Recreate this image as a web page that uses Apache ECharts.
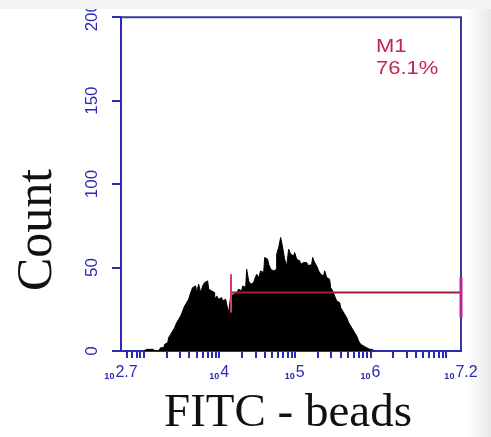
<!DOCTYPE html>
<html>
<head>
<meta charset="utf-8">
<script src="https://cdn.jsdelivr.net/npm/echarts@6/dist/echarts.min.js"></script>
<style>
  html, body { margin: 0; padding: 0; background: #ffffff; }
  #chart { width: 491px; height: 437px; }
</style>
</head>
<body>
<div id="chart"></div>
<script>
// FITC fluorescence histogram of beads, log10 intensity on x
const xRange = [2.7, 7.2];                 // decades shown
const xLabelDecades = [2.7, 4, 5, 6, 7.2]; // labelled positions (10^n)
const yTicks = [0, 50, 100, 150, 200];

// histogram channels: first channel centre (log10) and channel width (decades)
const channelStart = 3.0;
const channelWidth = 0.02647;
const counts = [
  0, 1, 1, 1, 1, 0, 0, 0, 1, 2,
  2, 4, 5, 8, 10, 12, 14, 17, 19, 21,
  24, 27, 29, 31, 35, 38, 39, 35, 40, 35,
  39, 41, 42, 37, 36, 35, 31, 33, 31, 32,
  30, 31, 28, 23, 33, 34, 35, 34, 37, 36,
  39, 38, 49, 42, 40, 41, 43, 46, 44, 48,
  47, 56, 55, 52, 49, 48, 49, 58, 62, 68,
  62, 55, 51, 61, 58, 57, 59, 55, 54, 52,
  53, 53, 52, 51, 52, 56, 53, 51, 48, 46,
  45, 48, 44, 43, 38, 36, 33, 30, 29, 26,
  24, 22, 20, 17, 15, 13, 11, 9, 6, 4,
  3, 2, 2, 1, 1, 0
];

// marker M1
const markerName = 'M1';
const markerPercent = '76.1%';
const markerFrom = 4.156;
const markerTo = 7.2;
const markerLevel = 35;
const markerStartTick = [23, 46];
const markerEndTick = [20, 44];

const histData = counts.map((c, i) => [channelStart + i * channelWidth, c]);

// minor/major tick positions of a log axis: k * 10^n inside the range
const logTicks = [];
for (let n = 2; n <= 7; n++) {
  for (let k = 1; k <= 9; k++) {
    const v = n + Math.log10(k);
    if (v > xRange[0] + 1e-6 && v <= xRange[1] + 1e-6) logTicks.push(v);
  }
}

const blue = '#2a2ab4';
const frame = '#3a3a9c';
const serif = 'Liberation Serif';

const chart = echarts.init(document.getElementById('chart'), null, { renderer: 'canvas' });
chart.setOption({
  backgroundColor: '#ffffff',
  animation: false,
  grid: {
    left: 121, right: 30, top: 11, bottom: 86,
    show: true, borderColor: frame, borderWidth: 2, backgroundColor: 'transparent'
  },
  xAxis: {
    type: 'value',
    min: xRange[0], max: xRange[1],
    axisLine: { show: true, lineStyle: { color: blue, width: 2 } },
    splitLine: { show: false },
    axisTick: {
      show: true, inside: false, length: 7,
      customValues: logTicks,
      lineStyle: { color: blue, width: 2 }
    },
    axisLabel: {
      customValues: xLabelDecades,
      margin: 14,
      formatter: v => '{b|10}{e|' + (Number.isInteger(v) ? v : v.toFixed(1)) + '}',
      rich: {
        b: { fontFamily: 'Liberation Sans', fontSize: 9, fontWeight: 'bold', color: blue, verticalAlign: 'bottom', padding: [0, 1, 0, 0] },
        e: { fontFamily: 'Liberation Sans', fontSize: 16, color: blue, verticalAlign: 'top' }
      }
    }
  },
  yAxis: {
    type: 'value',
    min: 0, max: 200, interval: 50,
    axisLine: { show: true, lineStyle: { color: blue, width: 2 } },
    splitLine: { show: false },
    axisTick: { show: true, inside: false, length: 9, lineStyle: { color: blue, width: 2 } },
    axisLabel: {
      rotate: 90,
      margin: 20,
      color: blue,
      fontFamily: 'Liberation Sans Narrow, Liberation Sans',
      fontSize: 17,
      formatter: v => yTicks.includes(v) ? String(v) : ''
    }
  },
  series: [
    {
      name: 'FITC',
      type: 'line',
      step: 'middle',
      symbol: 'none',
      data: histData,
      lineStyle: { color: '#000000', width: 1 },
      areaStyle: { color: '#000000', opacity: 1 },
      z: 2
    },
    {
      name: markerName,
      type: 'line',
      symbol: 'none',
      clip: false,
      data: [[markerFrom, markerLevel], [markerTo, markerLevel]],
      lineStyle: { color: '#a41e38', width: 2 },
      z: 3
    },
    {
      type: 'line',
      symbol: 'none',
      clip: false,
      data: [[markerFrom, markerStartTick[0]], [markerFrom, markerStartTick[1]]],
      lineStyle: { color: '#d0405e', width: 2 },
      z: 3
    },
    {
      type: 'line',
      symbol: 'none',
      clip: false,
      data: [[markerTo, markerEndTick[0]], [markerTo, markerEndTick[1]]],
      lineStyle: { color: '#b82890', width: 3 },
      z: 4
    }
  ],
  graphic: [
    {
      type: 'rect', right: 0, top: 0, z: -1, silent: true,
      shape: { width: 26, height: 437 },
      style: {
        fill: new echarts.graphic.LinearGradient(0, 0, 1, 0, [
          { offset: 0, color: 'rgba(236,236,236,0)' },
          { offset: 1, color: 'rgba(232,232,232,1)' }
        ])
      }
    },
    {
      type: 'text', left: 376, top: 38, scaleX: 1.22, z: 10,
      style: { text: markerName, fontFamily: 'Liberation Sans', fontSize: 18, fill: '#c0284e' }
    },
    {
      type: 'text', left: 376, top: 60, scaleX: 1.22, z: 10,
      style: { text: markerPercent, fontFamily: 'Liberation Sans', fontSize: 18, fill: '#c0284e' }
    },
    {
      type: 'text', x: 38, y: 230, rotation: Math.PI / 2, z: 10,
      style: {
        text: 'Count', fontFamily: serif, fontSize: 50, fill: '#111111',
        align: 'center', verticalAlign: 'middle'
      }
    },
    {
      type: 'text', x: 288, y: 414, z: 10,
      style: {
        text: 'FITC - beads', fontFamily: serif, fontSize: 47, fill: '#111111',
        align: 'center', verticalAlign: 'middle'
      }
    },
    {
      type: 'rect', left: 0, top: 0, z: 20,
      shape: { width: 491, height: 9 },
      style: { fill: '#f4f4f4' }
    }
  ]
});
</script>
</body>
</html>
